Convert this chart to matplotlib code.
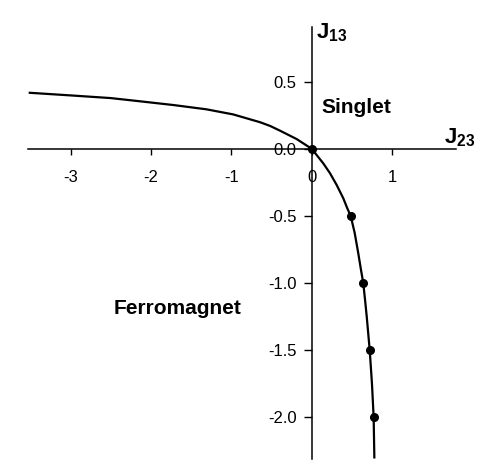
import matplotlib
matplotlib.use("Agg")
import matplotlib.pyplot as plt

# Boundary curve
curve_x = [-3.52, -3.0, -2.5, -2.137, -1.72, -1.31, -0.978, -0.646, -0.52, -0.398, -0.19,
           0.0, 0.058, 0.14, 0.224, 0.307, 0.389, 0.439, 0.481, 0.53, 0.575, 0.609, 0.637,
           0.66, 0.68, 0.717, 0.745, 0.766, 0.775]
curve_y = [0.42, 0.40, 0.38, 0.356, 0.328, 0.296, 0.258, 0.200, 0.172, 0.137, 0.074,
           0.0, -0.045, -0.107, -0.181, -0.269, -0.368, -0.443, -0.5, -0.625, -0.778, -0.903, -1.0,
           -1.13, -1.25, -1.5, -1.75, -2.0, -2.31]

# Computed points
pts_x = [0.0, 0.481, 0.637, 0.717, 0.766]
pts_y = [0.0, -0.5, -1.0, -1.5, -2.0]

xticks = [-3, -2, -1, 0, 1]
xtick_labels = ["-3", "-2", "-1", "0", "1"]
yticks = [-2.0, -1.5, -1.0, -0.5, 0.0, 0.5]
ytick_labels = ["-2.0", "-1.5", "-1.0", "-0.5", "0.0", "0.5"]

plt.rcParams['font.family'] = ['Liberation Sans', 'DejaVu Sans']
plt.rcParams['mathtext.fontset'] = 'custom'
plt.rcParams['mathtext.bf'] = 'Liberation Sans:bold'
plt.rcParams['mathtext.rm'] = 'Liberation Sans'

fig = plt.figure(figsize=(4.91, 4.75), dpi=100)
ax = fig.add_axes([0, 0, 1, 1])
ax.set_xlim(-3.876, 2.224)
ax.set_ylim(-2.433, 1.112)

for s in ['top', 'right']:
    ax.spines[s].set_visible(False)
ax.spines['left'].set_position(('data', 0))
ax.spines['bottom'].set_position(('data', 0))
ax.spines['left'].set_bounds(-2.31, 0.91)
ax.spines['bottom'].set_bounds(-3.53, 1.795)
for s in ['left', 'bottom']:
    ax.spines[s].set_linewidth(1.1)
    ax.spines[s].set_color('black')
    ax.spines[s].set_zorder(1)

ax.set_xticks(xticks)
ax.set_xticklabels(xtick_labels)
ax.set_yticks(yticks)
ax.set_yticklabels(ytick_labels)
ax.tick_params(axis='x', direction='out', length=4, width=1, pad=11, labelsize=12)
ax.tick_params(axis='y', direction='out', length=6, width=1, pad=5, labelsize=12)
for lbl in ax.get_xticklabels() + ax.get_yticklabels():
    lbl.set_zorder(0)

ax.plot(curve_x, curve_y, color='black', lw=1.6, zorder=3, solid_capstyle='butt',
        solid_joinstyle='round')
ax.plot(pts_x, pts_y, 'o', color='black', ms=5.5, zorder=4)

ax.text(0.12, 0.27, "Singlet", fontsize=15, fontweight='bold', ha='left', va='baseline')
ax.text(-2.47, -1.234, "Ferromagnet", fontsize=15, fontweight='bold', ha='left', va='baseline')
ax.text(0.05, 0.826, r"$\mathbf{J_{13}}$", fontsize=16, ha='left', va='baseline')
ax.text(1.64, 0.045, r"$\mathbf{J_{23}}$", fontsize=16, ha='left', va='baseline')

fig.savefig("out.png", dpi=100)
